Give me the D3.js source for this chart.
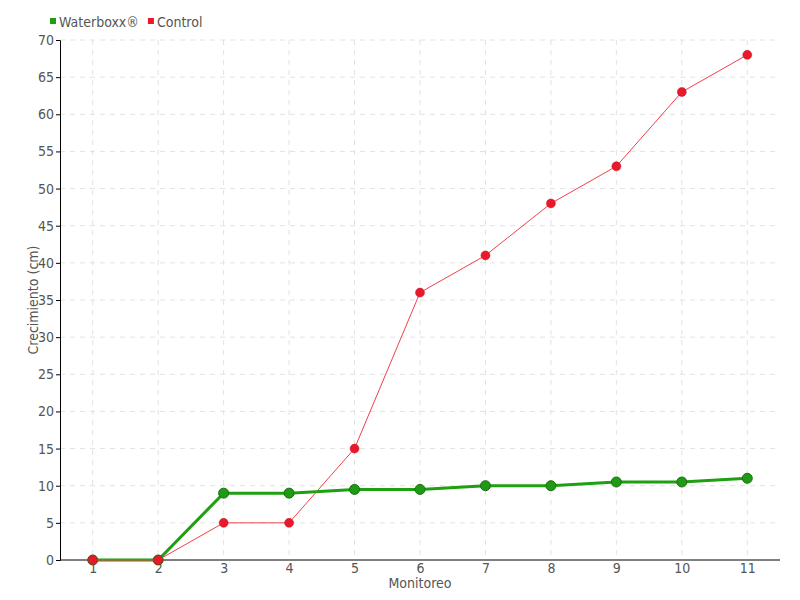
<!DOCTYPE html>
<html><head><meta charset="utf-8">
<script src="https://cdn.jsdelivr.net/npm/d3@7/dist/d3.min.js"></script>
<style>
body{margin:0;background:#fff;}
text{font-family:"DejaVu Sans Condensed","Liberation Sans Narrow","DejaVu Sans",sans-serif;fill:#555;}
</style></head>
<body><svg id="c" width="800" height="600"></svg>
<script>
const monitoreo = [1,2,3,4,5,6,7,8,9,10,11];
const waterboxx = [0,0,9,9,9.5,9.5,10,10,10.5,10.5,11];
const control = [0,0,5,5,15,36,41,48,53,63,68];
const yTicks = [0,5,10,15,20,25,30,35,40,45,50,55,60,65,70];
const seriesNames = ["Waterboxx®","Control"];

const svg = d3.select("#c");
const x = d3.scaleLinear().domain([0.5,11.5]).range([60,780]);
const y = d3.scaleLinear().domain([0,70]).range([560,40]);

// grid
const g = svg.append("g");
g.selectAll(".hg").data(yTicks.slice(1)).join("line")
  .attr("x1",60).attr("x2",780).attr("y1",d=>y(d)).attr("y2",d=>y(d))
  .attr("stroke","#e2e2e2").attr("stroke-dasharray","5,5");
g.selectAll(".vg").data(monitoreo).join("line")
  .attr("x1",d=>x(d)).attr("x2",d=>x(d)).attr("y1",40).attr("y2",560)
  .attr("stroke","#e2e2e2").attr("stroke-dasharray","5,5");

// axes
const yAxis = svg.append("g").attr("transform","translate(60,0)")
  .call(d3.axisLeft(y).tickValues(yTicks).tickSize(4).tickPadding(2));
yAxis.select(".domain").attr("stroke","#000");
yAxis.selectAll(".tick line").attr("stroke","#000");
yAxis.selectAll("text").attr("font-size",14).attr("fill","#555");

const xAxis = svg.append("g").attr("transform","translate(0,560)")
  .call(d3.axisBottom(x).tickValues(monitoreo).tickFormat(d3.format("d")).tickSize(0).tickPadding(3));
xAxis.select(".domain").attr("stroke","#000").attr("d","M60,0H780");
xAxis.selectAll("text").attr("font-size",14).attr("fill","#555");

svg.append("text").attr("x",420).attr("y",588).attr("text-anchor","middle")
  .attr("font-size",14).text("Monitoreo");
svg.append("text").attr("transform","translate(38,300) rotate(-90)").attr("text-anchor","middle")
  .attr("font-size",14).text("Crecimiento (cm)");

const line = d3.line().x((d,i)=>x(monitoreo[i])).y(d=>y(d));

// green
svg.append("path").datum(waterboxx).attr("d",line).attr("fill","none")
  .attr("stroke","#1ea010").attr("stroke-width",3);
svg.selectAll(".gp").data(waterboxx).join("circle")
  .attr("cx",(d,i)=>x(monitoreo[i])).attr("cy",d=>y(d)).attr("r",5)
  .attr("fill","#1f9a14").attr("stroke","#1a6e10").attr("stroke-width",1);

// red
svg.append("path").datum(control).attr("d",line).attr("fill","none")
  .attr("stroke","#f2404a").attr("stroke-width",1);
svg.selectAll(".rp").data(control).join("circle")
  .attr("cx",(d,i)=>x(monitoreo[i])).attr("cy",d=>y(d)).attr("r",4.5)
  .attr("fill","#e8192a").attr("stroke","#c8101c").attr("stroke-width",0.5);

// legend
const colors = ["#1ca00e","#e8192a"];
const lg = svg.append("g");
let lx = 50;
seriesNames.forEach((n,i)=>{
  lg.append("rect").attr("x",lx).attr("y",18).attr("width",6).attr("height",6).attr("fill",colors[i]);
  const t = lg.append("text").attr("x",lx+9).attr("y",27).attr("font-size",14).text(n);
  lx += 9 + t.node().getComputedTextLength() + 9;
});
</script></body></html>
